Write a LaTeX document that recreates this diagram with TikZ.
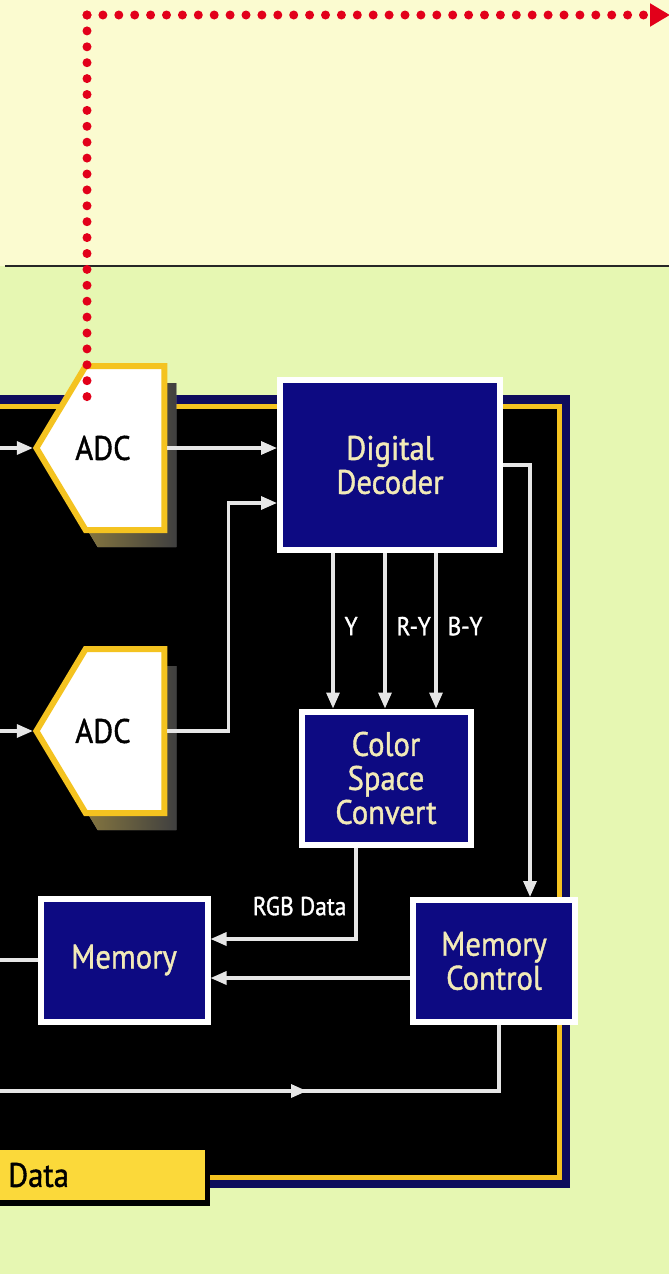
\documentclass[tikz,border=0pt]{standalone}
\usepackage{fontspec}
\setmainfont{PT Sans}[FakeStretch=0.9, FakeBold=1.2]
\usetikzlibrary{arrows.meta,calc,shapes.symbols,shadows}
\definecolor{paleyellow}{HTML}{FBFBD0}
\definecolor{palegreen}{HTML}{E6F7B2}
\definecolor{boxnavy}{HTML}{0D0A82}
\definecolor{panelnavy}{HTML}{0E0C5C}
\definecolor{goldline}{HTML}{F4C320}
\definecolor{labelgold}{HTML}{FBD93A}
\definecolor{cream}{HTML}{F2EAB8}
\definecolor{wirewhite}{HTML}{E6E6E6}
\definecolor{dotred}{HTML}{E2001A}
\definecolor{adcshadow}{HTML}{6B6852}

\begin{document}
\begin{tikzpicture}[
  x=1pt, y=-1pt,
  font=\fontsize{34}{34}\selectfont,
  block/.style={draw=white, line width=6pt, fill=boxnavy, text=cream, align=center},
  adc/.style={shape=signal, signal to=west, signal pointer angle=118, draw=goldline, line width=6pt,
    fill=white, minimum width=128pt, minimum height=164pt, inner sep=0pt,
    label={[text=black, xshift=-22pt]center:ADC},
    drop shadow={shadow xshift=12pt, shadow yshift=-17pt, left color=adcshadow!60!goldline,
      right color=black!75, opacity=1}},
  wire/.style={draw=wirewhite, line width=3.2pt},
  flow/.style={wire, -{Triangle[length=16pt, width=13pt]}, color=wirewhite},
  lbl/.style={text=white, font=\fontsize{26}{28}\selectfont, inner sep=0pt},
  reddots/.style={draw=dotred, line width=9pt, line cap=round, dash pattern=on 0pt off 15.9pt}
]
  \useasboundingbox (0,0) rectangle (669,1274);
  \clip (0,0) rectangle (669,1274);
  % background and board
  \fill[paleyellow] (0,0) rectangle (669,266);
  \fill[palegreen] (0,266) rectangle (669,1274);
  \draw[black!85, line width=2pt] (5,266) -- (669,266);
  \fill[panelnavy] (-10,395) rectangle (570,1188);
  \fill[goldline] (-10,404) rectangle (562,1180);
  \fill[black] (-10,409) rectangle (557,1175);

  % blocks
  \node[adc] (adc1) at (125,448) {};
  \node[adc] (adc2) at (125,731) {};
  \node[block, minimum width=220pt, minimum height=170pt] (dec) at (390,465) {Digital\\Decoder};
  \node[block, minimum width=169pt, minimum height=133pt] (csc) at (386,778) {Color\\Space\\Convert};
  \node[block, minimum width=167pt, minimum height=123pt] (mem) at (124,960) {Memory};
  \node[block, minimum width=162pt, minimum height=122pt] (mctl) at (494,961) {Memory\\Control};
  \node[fill=labelgold, anchor=west, text width=177pt, inner xsep=20pt, minimum height=50pt,
    drop shadow={shadow xshift=5pt, shadow yshift=-6pt, fill=black, opacity=1}] (datalbl) at (-12,1175) {Data};

  % connectors
  \coordinate (in1) at (-4,448);
  \coordinate (in2) at (-4,731);
  \draw[flow] (in1) -- (adc1.west);
  \draw[flow] (in2) -- (adc2.west);
  \draw[flow] (adc1.east) -- (adc1.east -| dec.west);
  \draw[flow] (adc2.east) -- ++(61,0) |- ($(dec.west)+(0,38)$);
  \foreach \dx/\sig in {-57/Y, -5/R-Y, 46/B-Y}
    \draw[flow] ($(dec.south)+(\dx,0)$) coordinate (tap) -- (tap |- csc.north)
      node[lbl, pos=0.47, anchor=west, xshift=10pt] {\sig};
  \draw[flow] (dec.east) -| ($(mctl.north)+(36,0)$);
  \draw[flow] ($(csc.south)+(-30,0)$) |- ($(mem.east)+(0,-21)$)
    node[lbl, pos=0.32, anchor=east, xshift=-8pt] {RGB Data};
  \draw[flow] ($(mctl.west)+(0,17)$) coordinate (ctlout) -- (ctlout -| mem.east);
  \coordinate (memin) at (-4,960);
  \draw[wire] (memin) -- (mem.west);
  \coordinate (busin) at (-4,1091);
  \coordinate (busmid) at (307,1091);
  \draw[wire] (busin) -| ($(mctl.south)+(5,0)$);
  \draw[flow] (busin) -- (busmid);

  % red dotted probe path
  \coordinate (probe) at (87,397);
  \coordinate (corner) at (87,15);
  \coordinate (out) at (670,15);
  \draw[reddots] (corner) -- (probe);
  \draw[reddots, -{Triangle[length=20pt, width=22pt]}] (corner) -- (out);
\end{tikzpicture}
\end{document}
